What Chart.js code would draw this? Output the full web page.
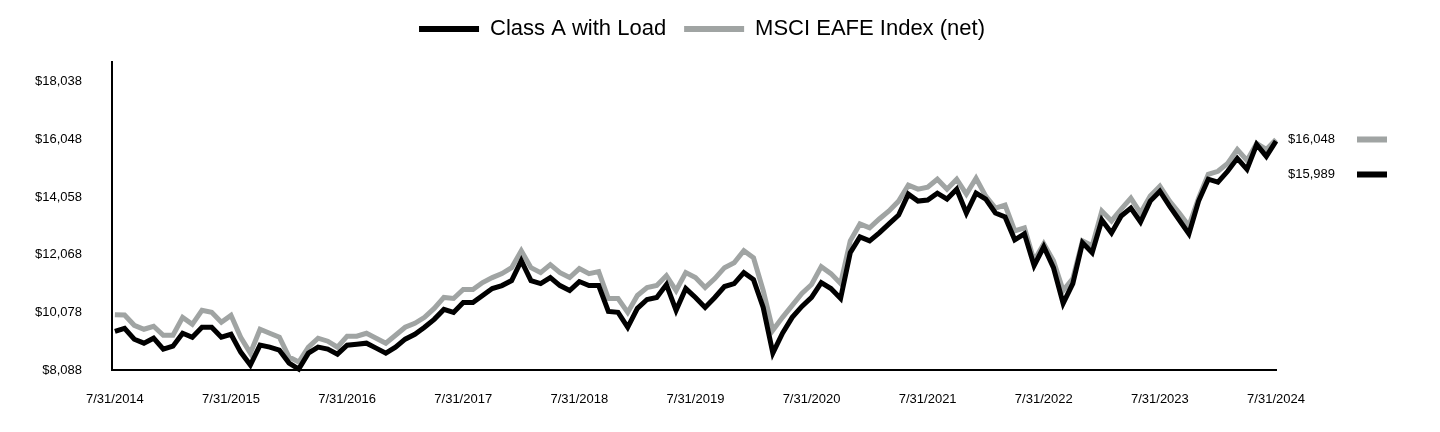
<!DOCTYPE html>
<html>
<head>
<meta charset="utf-8">
<script src="https://cdn.jsdelivr.net/npm/chart.js@4.4.0/dist/chart.umd.min.js"></script>
<style>
  html, body { margin: 0; padding: 0; background: #fff; }
  #wrap { width: 1440px; height: 432px; position: relative; }
</style>
</head>
<body>
<div id="wrap"><canvas id="growthChart"></canvas></div>
<script>
const xTickLabels = ['7/31/2014', '7/31/2015', '7/31/2016', '7/31/2017', '7/31/2018', '7/31/2019',
    '7/31/2020', '7/31/2021', '7/31/2022', '7/31/2023', '7/31/2024'];
const yTickValues = [8088, 10078, 12068, 14058, 16048, 18038];

// monthly values, 7/31/2014 .. 7/31/2024
const classA = [
    9425, 9529, 9152, 9014, 9186, 8809, 8911, 9357, 9220, 9563, 9563, 9220,
    9323, 8706, 8260, 8946, 8877, 8774, 8328, 8122, 8671, 8877, 8809, 8637,
    8946, 8980, 9014, 8843, 8671, 8877, 9152, 9323, 9563, 9838, 10181, 10078,
    10421, 10421, 10661, 10901, 11004, 11176, 11862, 11176, 11073, 11279, 11004, 10833,
    11142, 11004, 11004, 10112, 10078, 9563, 10215, 10524, 10593, 11039, 10147, 10901,
    10593, 10250, 10593, 10970, 11073, 11450, 11210, 10250, 8671, 9357, 9906, 10284,
    10593, 11107, 10901, 10558, 12137, 12686, 12548, 12823, 13132, 13440, 14161, 13921,
    13955, 14195, 13989, 14332, 13509, 14195, 13989, 13509, 13372, 12583, 12788, 11691,
    12342, 11622, 10387, 11073, 12480, 12137, 13269, 12823, 13406, 13681, 13200, 13921,
    14264, 13749, 13269, 12788, 13921, 14676, 14573, 14950, 15396, 15019, 15876, 15465,
    15989
];
const msciEafe = [
    10000, 9990, 9632, 9495, 9598, 9289, 9289, 9906, 9666, 10147, 10078, 9735,
    9975, 9220, 8671, 9495, 9357, 9220, 8534, 8362, 8877, 9186, 9083, 8877,
    9255, 9255, 9357, 9186, 9014, 9289, 9563, 9701, 9906, 10215, 10593, 10558,
    10867, 10867, 11107, 11279, 11416, 11622, 12205, 11622, 11450, 11725, 11450, 11279,
    11588, 11416, 11485, 10558, 10558, 10078, 10661, 10936, 11004, 11347, 10833, 11450,
    11279, 10936, 11245, 11622, 11793, 12205, 11965, 10833, 9460, 9906, 10318, 10730,
    11039, 11656, 11416, 11073, 12548, 13132, 12994, 13303, 13578, 13921, 14470, 14332,
    14401, 14676, 14332, 14676, 14161, 14710, 14092, 13681, 13783, 12891, 12994, 11862,
    12445, 11862, 10833, 11245, 12548, 12377, 13578, 13235, 13646, 14024, 13509, 14092,
    14435, 13921, 13509, 13063, 14024, 14847, 14950, 15224, 15705, 15327, 15911, 15705,
    16048
];

const blackColor = '#000000';
const grayColor = '#a0a4a3';
const fontFamily = 'Arial, "Liberation Sans", sans-serif';

function money(v) {
    return '$' + v.toLocaleString('en-US');
}

// end values shown to the right of the plot
const endLabels = {
    id: 'endLabels',
    afterLayout(chart) {
        // legend sits a bit right of the plot centre in the original
        const lg = chart.legend;
        const shift = 64;
        lg.left += shift;
        lg.right += shift;
    },
    afterDraw(chart) {
        const ctx = chart.ctx;
        const area = chart.chartArea;
        const y = chart.scales.y;
        const gy = y.getPixelForValue(msciEafe[msciEafe.length - 1]);
        const by = gy + 35;
        ctx.save();
        ctx.font = '13px ' + fontFamily;
        ctx.textBaseline = 'middle';
        ctx.textAlign = 'left';
        ctx.fillStyle = '#000';
        ctx.fillText(money(msciEafe[msciEafe.length - 1]), area.right + 12, gy);
        ctx.fillText(money(classA[classA.length - 1]), area.right + 12, by);
        ctx.fillStyle = grayColor;
        ctx.fillRect(area.right + 81, gy - 3, 30, 6);
        ctx.fillStyle = blackColor;
        ctx.fillRect(area.right + 81, by - 3, 30, 6);
        ctx.restore();
    }
};

const canvas = document.getElementById('growthChart');
new Chart(canvas, {
    type: 'line',
    data: {
        datasets: [{
            label: 'Class A with Load',
            data: classA.map((v, i) => ({ x: i, y: v })),
            borderColor: blackColor,
            backgroundColor: blackColor,
            borderWidth: 5,
            pointRadius: 0,
            tension: 0,
            clip: false
        }, {
            label: 'MSCI EAFE Index (net)',
            data: msciEafe.map((v, i) => ({ x: i, y: v })),
            borderColor: grayColor,
            backgroundColor: grayColor,
            borderWidth: 5,
            pointRadius: 0,
            tension: 0,
            clip: false
        }]
    },
    options: {
        responsive: true,
        maintainAspectRatio: false,
        animation: false,
        layout: {
            padding: { top: 0, right: 164, bottom: 0, left: 0 }
        },
        plugins: {
            tooltip: { enabled: false },
            legend: {
                position: 'top',
                labels: {
                    boxWidth: 60,
                    boxHeight: 6,
                    padding: 18,
                    color: '#000',
                    font: { family: fontFamily, size: 22 },
                    generateLabels(chart) {
                        return Chart.defaults.plugins.legend.labels.generateLabels(chart)
                            .map(l => ({ ...l, fillStyle: l.strokeStyle, lineWidth: 0 }));
                    }
                }
            }
        },
        scales: {
            x: {
                type: 'linear',
                min: -0.3,
                max: 120,
                afterFit(scale) { scale.height = 62; },
                afterBuildTicks(scale) {
                    scale.ticks = xTickLabels.map((l, i) => ({ value: i * 12 }));
                },
                grid: { display: false, drawTicks: false },
                border: { display: true, color: '#000', width: 2 },
                ticks: {
                    padding: 22,
                    maxRotation: 0,
                    autoSkip: false,
                    color: '#000',
                    font: { family: fontFamily, size: 13 },
                    callback: (value, index) => xTickLabels[index]
                }
            },
            // empty strip between legend and plot
            gap: {
                type: 'linear',
                position: 'top',
                afterFit(scale) { scale.height = 12; },
                grid: { display: false, drawTicks: false },
                border: { display: false },
                ticks: { display: false }
            },
            y: {
                min: 8088,
                max: 18724,
                afterFit(scale) { scale.width = 112; },
                afterBuildTicks(scale) {
                    scale.ticks = yTickValues.map(v => ({ value: v }));
                },
                grid: { display: false, drawTicks: false },
                border: { display: true, color: '#000', width: 2 },
                ticks: {
                    padding: 30,
                    color: '#000',
                    font: { family: fontFamily, size: 13 },
                    callback: value => money(value)
                }
            }
        }
    },
    plugins: [endLabels]
});
</script>
</body>
</html>
